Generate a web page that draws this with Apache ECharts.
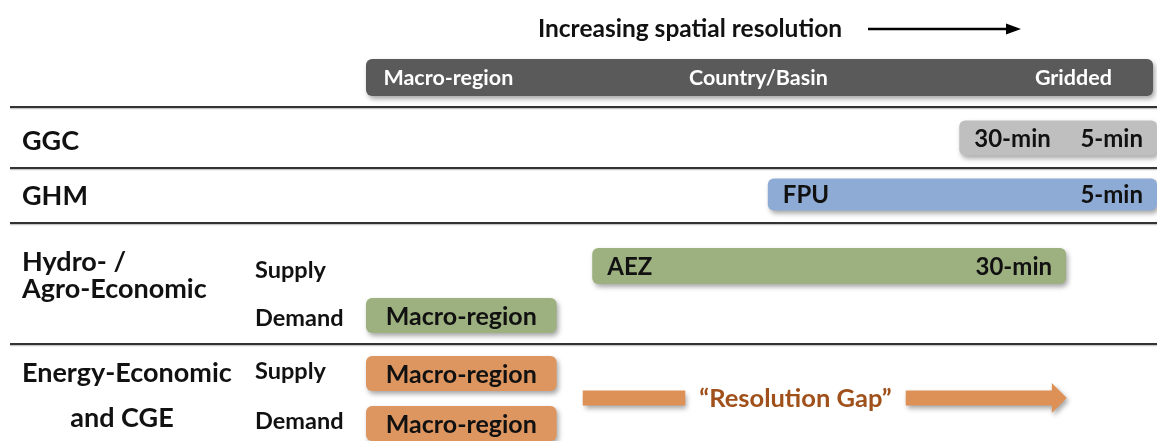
<!DOCTYPE html>
<html><head><meta charset="utf-8">
<script src="https://cdn.jsdelivr.net/npm/echarts@6/dist/echarts.min.js"></script>
<style>html,body{margin:0;padding:0;background:#fff}#c{width:1157px;height:441px}</style>
</head><body><div id="c"></div>
<script>
// ---- data (x = spatial resolution scale: 0 = macro-region ... 100 = gridded) ----
const titleText = 'Increasing spatial resolution';
const resolutionLabels = ['Macro-region', 'Country/Basin', 'Gridded'];
const resolutionLabelPos = [2.2, 49.6, 94.3];
const modelGroups = ['GGC', 'GHM', 'Hydro- /', 'Agro-Economic', 'Energy-Economic', 'and CGE'];
const sideLabels = ['Supply', 'Demand', 'Supply', 'Demand'];
const barNames = ['GGC', 'GHM', 'Hydro supply', 'Hydro demand', 'Energy supply', 'Energy demand'];
const barStart = [75.0, 50.8, 28.6, 0, 0, 0];
const barEnd = [100, 100, 88.5, 24.1, 24.1, 24.1];
const barTextLeft = ['30-min', 'FPU', 'AEZ', 'Macro-region', 'Macro-region', 'Macro-region'];
const barTextRight = ['5-min', '5-min', '30-min', '', '', ''];
const gapLabel = '\u201CResolution Gap\u201D';
const gapStart = 27.4;
const gapEnd = 88.6;
const headerStart = 0;
const headerEnd = 99.5;

// ---- layout / style ----
const FONT = 'Lato, "Open Sans", sans-serif';
const barRowY = [138, 194.5, 266, 315.5, 373.5, 423.5];
const barH = [35, 32, 36, 35, 35, 35];
const barColor = ['#bfbfbf', '#8dabd4', '#9db07f', '#9db07f', '#de9660', '#de9660'];
const headerY = 77.5, headerH = 37;
const gapY = 398;
const shadow = {shadowBlur: 5, shadowOffsetX: 2, shadowOffsetY: 3, shadowColor: 'rgba(0,0,0,0.35)'};

const ctx = document.createElement('canvas').getContext('2d');
function textW(t, font) { ctx.font = font; return ctx.measureText(t).width; }

function renderHeader(params, api) {
  const a = api.coord([headerStart, headerY]);
  const b = api.coord([headerEnd, headerY]);
  const ch = [{
    type: 'rect',
    shape: {x: a[0], y: a[1] - headerH / 2, width: b[0] - a[0], height: headerH, r: 6},
    style: Object.assign({fill: '#5a5a5a'}, shadow)
  }];
  const aligns = ['left', 'center', 'right'];
  resolutionLabels.forEach((t, i) => {
    const p = api.coord([resolutionLabelPos[i], headerY]);
    ch.push({type: 'text', style: {text: t, x: p[0], y: p[1] + 1, align: aligns[i], verticalAlign: 'middle',
      fill: '#ffffff', font: 'bold 21.5px ' + FONT}});
  });
  return {type: 'group', children: ch};
}

function renderBar(params, api) {
  const i = params.dataIndex;
  const y = api.value(2);
  const a = api.coord([api.value(0), y]);
  const b = api.coord([api.value(1), y]);
  const h = barH[i];
  const ch = [{
    type: 'rect',
    shape: {x: a[0], y: a[1] - h / 2, width: b[0] - a[0], height: h, r: 6},
    style: Object.assign({fill: barColor[i]}, shadow)
  }];
  const font = 'bold 24px ' + FONT;
  if (barTextRight[i]) {
    ch.push({type: 'text', style: {text: barTextLeft[i], x: a[0] + 15, y: a[1] + 1, align: 'left', verticalAlign: 'middle', fill: '#111', font: font}});
    ch.push({type: 'text', style: {text: barTextRight[i], x: b[0] - 14, y: a[1] + 1, align: 'right', verticalAlign: 'middle', fill: '#111', font: font}});
  } else {
    ch.push({type: 'text', style: {text: barTextLeft[i], x: (a[0] + b[0]) / 2, y: a[1] + 1, align: 'center', verticalAlign: 'middle', fill: '#111', font: 'bold 25px ' + FONT}});
  }
  return {type: 'group', children: ch};
}

function renderGap(params, api) {
  const y = api.value(2);
  const a = api.coord([api.value(0), y]);
  const b = api.coord([api.value(1), y]);
  const font = 'bold 25.5px ' + FONT;
  const tc = 795.5;
  const tw = textW(gapLabel, font);
  const thick = 15, headW = 15, headH = 30;
  const l1 = tc - tw / 2 - 14, r0 = tc + tw / 2 + 14;
  const col = '#dd9157';
  const ch = [
    {type: 'rect', shape: {x: a[0], y: a[1] - thick / 2, width: l1 - a[0], height: thick}, style: Object.assign({fill: col}, shadow)},
    {type: 'polygon', shape: {points: [
      [r0, a[1] - thick / 2], [b[0] - headW, a[1] - thick / 2], [b[0] - headW, a[1] - headH / 2],
      [b[0], a[1]], [b[0] - headW, a[1] + headH / 2], [b[0] - headW, a[1] + thick / 2], [r0, a[1] + thick / 2]
    ]}, style: Object.assign({fill: col}, shadow)},
    {type: 'text', style: {text: gapLabel, x: tc, y: a[1] + 1, align: 'center', verticalAlign: 'middle', fill: '#a0501a', font: font}}
  ];
  return {type: 'group', children: ch};
}

const sepY = [107, 168, 223, 344];
const graphics = [];
sepY.forEach(y => {
  graphics.push({type: 'line', shape: {x1: 10, y1: y + 1.5, x2: 1157, y2: y + 1.5}, style: {stroke: '#c8c8c8', lineWidth: 1.5}, z: 0});
  graphics.push({type: 'line', shape: {x1: 10, y1: y, x2: 1157, y2: y}, style: {stroke: '#333', lineWidth: 2.2}, z: 1});
});
graphics.push({type: 'text', x: 690, y: 29, style: {text: titleText, align: 'center', verticalAlign: 'middle', fill: '#111', font: 'bold 24.5px ' + FONT}});
graphics.push({type: 'line', shape: {x1: 868, y1: 29, x2: 1008, y2: 29}, style: {stroke: '#000', lineWidth: 2.5}});
graphics.push({type: 'polygon', shape: {points: [[1006, 23.5], [1021, 29], [1006, 34.5]]}, style: {fill: '#000'}});
const groupPos = [[22, 141, 'left'], [22, 196, 'left'], [22, 262, 'left'], [22, 289, 'left'], [22, 373, 'left'], [122, 418, 'center']];
modelGroups.forEach((t, i) => graphics.push({type: 'text', x: groupPos[i][0], y: groupPos[i][1],
  style: {text: t, align: groupPos[i][2], verticalAlign: 'middle', fill: '#111', font: 'bold 27px ' + FONT}}));
const sidePos = [270, 318, 371, 421];
sideLabels.forEach((t, i) => graphics.push({type: 'text', x: 255, y: sidePos[i],
  style: {text: t, align: 'left', verticalAlign: 'middle', fill: '#111', font: 'bold 23.5px ' + FONT}}));

const chart = echarts.init(document.getElementById('c'), null, {renderer: 'canvas'});
chart.setOption({
  animation: false,
  grid: {left: 366, right: 0, top: 0, bottom: 0},
  xAxis: {type: 'value', min: 0, max: 100, show: false},
  yAxis: {type: 'value', min: 0, max: 441, inverse: true, show: false},
  graphic: graphics,
  series: [
    {type: 'custom', name: 'header', renderItem: renderHeader, data: [[headerStart, headerEnd, headerY]], clip: false, z: 3},
    {type: 'custom', name: 'models', renderItem: renderBar, clip: false, z: 3,
      data: barNames.map((n, i) => ({name: n, value: [barStart[i], barEnd[i], barRowY[i]]}))},
    {type: 'custom', name: 'gap', renderItem: renderGap, clip: false, z: 3, data: [[gapStart, gapEnd, gapY]]}
  ]
});
</script></body></html>
